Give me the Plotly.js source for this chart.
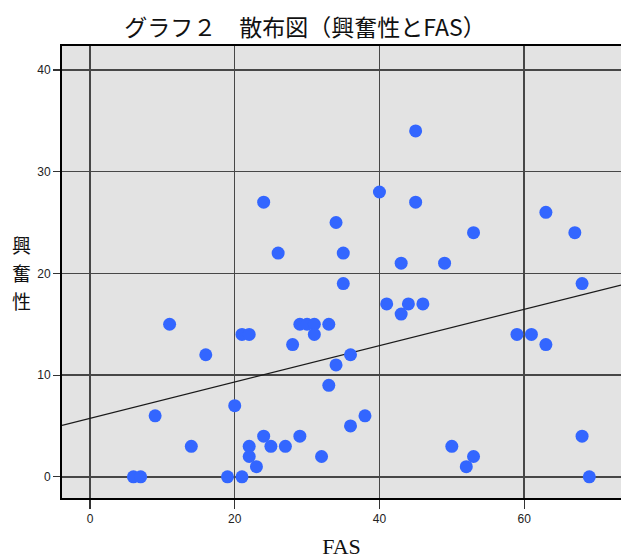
<!DOCTYPE html>
<html>
<head>
<meta charset="utf-8">
<script src="https://cdn.plot.ly/plotly-3.0.1.min.js"></script>
<style>
  html, body { margin: 0; padding: 0; background: #fff; }
  #chart { width: 621px; height: 559px; }
</style>
</head>
<body>
<div id="chart"></div>
<script>
// FAS score and excitability score for each respondent
const fas = [6, 7, 9, 11, 14, 16, 19, 20, 21, 21, 22, 22, 22, 23, 24, 24, 25, 26, 27, 28,
             29, 29, 30, 31, 31, 32, 33, 33, 34, 34, 35, 35, 36, 36, 38, 40, 41, 43, 43, 44,
             45, 45, 46, 49, 50, 52, 53, 53, 59, 61, 63, 63, 67, 68, 68, 69];
const excitability = [0, 0, 6, 15, 3, 12, 0, 7, 0, 14, 14, 3, 2, 1, 27, 4, 3, 22, 3, 13,
             15, 4, 15, 15, 14, 2, 15, 9, 25, 11, 22, 19, 12, 5, 6, 28, 17, 21, 16, 17,
             34, 27, 17, 21, 3, 1, 2, 24, 14, 14, 13, 26, 24, 4, 19, 0];

const xTicks = [0, 20, 40, 60];
const yTicks = [0, 10, 20, 30, 40];
const xRange = [-3.87, 73.38];
const yRange = [-2.08, 42.35];
// Vertical y-axis title, one character per row
const yTitleChars = ['興', '奮', '性'];

// Least-squares fit line across the full x range
function linearFit(xs, ys) {
  const n = xs.length;
  const mx = xs.reduce((a, b) => a + b, 0) / n;
  const my = ys.reduce((a, b) => a + b, 0) / n;
  let sxy = 0, sxx = 0;
  for (let i = 0; i < n; i++) {
    sxy += (xs[i] - mx) * (ys[i] - my);
    sxx += (xs[i] - mx) * (xs[i] - mx);
  }
  const slope = sxy / sxx;
  return { slope, intercept: my - slope * mx };
}
const fit = linearFit(fas, excitability);
const fitX = [xRange[0], xRange[1]];
const fitY = fitX.map(x => fit.intercept + fit.slope * x);

const points = {
  type: 'scatter', mode: 'markers',
  x: fas, y: excitability,
  marker: { color: '#3366ff', size: 13, line: { width: 0 } },
  hoverinfo: 'x+y', showlegend: false
};
const fitLine = {
  type: 'scatter', mode: 'lines',
  x: fitX, y: fitY,
  line: { color: '#1a1a1a', width: 1.2 },
  hoverinfo: 'skip', showlegend: false
};

const tickFont = { family: 'Liberation Sans, Arial, sans-serif', size: 12, color: '#222' };

// Stack the y-title characters around the plot's vertical centre
const rowPitch = 28;
const yTitleAnnotations = yTitleChars.map((ch, i) => ({
  text: ch,
  xref: 'paper', yref: 'paper',
  x: -0.072, xanchor: 'center',
  y: 0.5, yanchor: 'middle',
  yshift: (1 - i) * rowPitch,
  showarrow: false,
  font: { family: 'Noto Sans CJK JP, sans-serif', size: 19, color: '#111' }
}));

const layout = {
  width: 621, height: 559,
  margin: { l: 62, r: 0, t: 46, b: 61 },
  paper_bgcolor: '#ffffff',
  plot_bgcolor: '#e3e3e3',
  title: {
    text: 'グラフ２　散布図（興奮性とFAS）',
    font: { family: 'Noto Sans CJK JP, sans-serif', size: 23, color: '#111' },
    x: 305 / 621, xanchor: 'center', xref: 'container',
    y: 1 - 28 / 559, yanchor: 'middle', yref: 'container'
  },
  xaxis: {
    range: xRange, tickvals: xTicks, ticktext: xTicks.map(String),
    showgrid: true, gridcolor: '#474747', gridwidth: 1.5,
    zeroline: false,
    showline: true, linecolor: '#000', linewidth: 2, mirror: true,
    ticks: 'outside', ticklen: 9, tickcolor: '#333', tickwidth: 1.2,
    tickfont: tickFont,
    title: { text: 'FAS', font: { family: 'Liberation Serif, serif', size: 22, color: '#111' }, standoff: 14 }
  },
  yaxis: {
    range: yRange, tickvals: yTicks, ticktext: yTicks.map(String),
    showgrid: true, gridcolor: '#474747', gridwidth: 1.5,
    zeroline: false,
    showline: true, linecolor: '#000', linewidth: 2, mirror: false,
    ticks: 'outside', ticklen: 7, tickcolor: '#333', tickwidth: 1.2,
    tickfont: tickFont
  },
  annotations: yTitleAnnotations
};

Plotly.newPlot('chart', [fitLine, points], layout, { displayModeBar: false, staticPlot: true });
</script>
</body>
</html>
